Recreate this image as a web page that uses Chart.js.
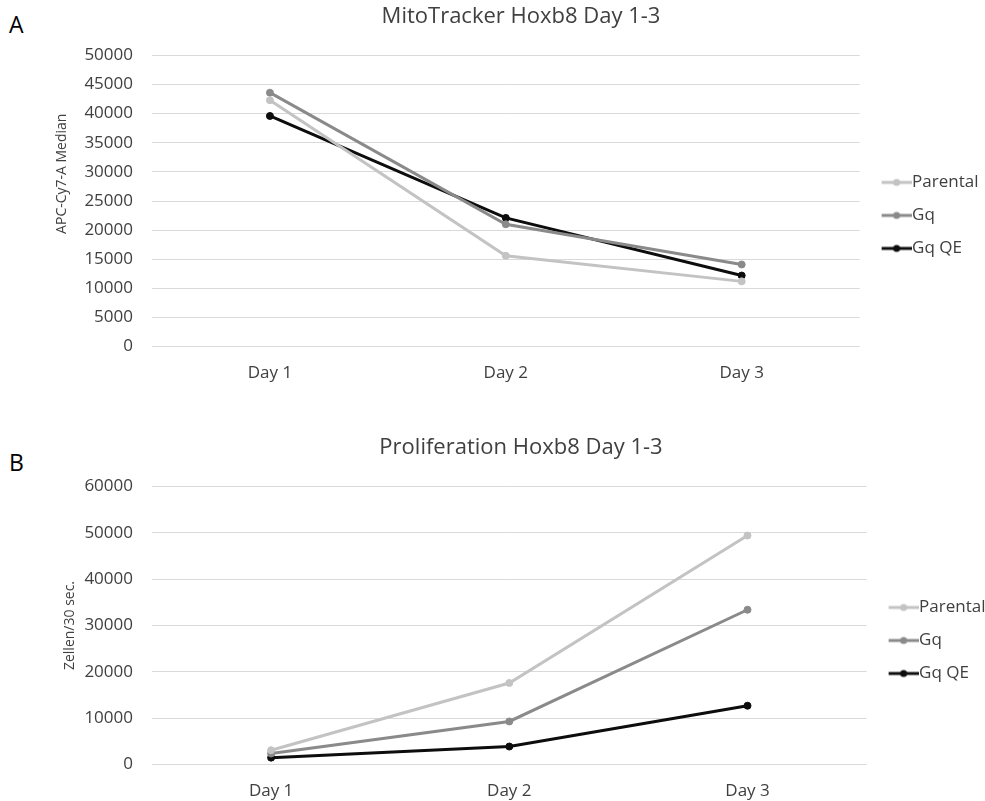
<!DOCTYPE html>
<html>
<head>
<meta charset="utf-8">
<script src="https://cdn.jsdelivr.net/npm/chart.js@4.4.1/dist/chart.umd.min.js"></script>
<style>
  html, body { margin: 0; padding: 0; background: #fff; overflow: hidden; }
  body { width: 985px; height: 801px; position: relative; font-family: 'Open Sans', sans-serif; }
  .panel { position: absolute; left: 0; }
  .letter { position: absolute; left: 9px; font-size: 23px; line-height: 1; color: #000; }
</style>
</head>
<body>
<div class="letter" style="top:13px">A</div>
<div class="letter" style="top:451px">B</div>
<div class="panel" style="top:0;width:995px;height:399px"><canvas id="graficoMito"></canvas></div>
<div class="panel" style="top:431px;width:1005px;height:386px"><canvas id="graficoProlif"></canvas></div>
<script>
// Dados
const dias = ['Day 1', 'Day 2', 'Day 3'];
const series = ['Parental', 'Gq', 'Gq QE'];
const cores = ['#c3c3c3', '#8a8a8a', '#0d0d0d'];

const mitoParental = [42300, 15600, 11200];
const mitoGq = [43600, 21000, 14100];
const mitoGqQE = [39600, 22100, 12200];

const prolifParental = [3100, 17600, 49400];
const prolifGq = [2400, 9300, 33400];
const prolifGqQE = [1500, 3900, 12700];

const corTexto = '#404040';
const fonte = "'Open Sans', sans-serif";

// Marcador da legenda: linha com ponto no meio
function marcador(cor) {
    const c = document.createElement('canvas');
    c.width = 44;
    c.height = 10;
    const ctx = c.getContext('2d');
    ctx.strokeStyle = cor;
    ctx.lineWidth = 3;
    ctx.beginPath();
    ctx.moveTo(14, 5);
    ctx.lineTo(44, 5);
    ctx.stroke();
    ctx.fillStyle = cor;
    ctx.beginPath();
    ctx.arc(29, 5, 3.5, 0, Math.PI * 2);
    ctx.fill();
    return c;
}

function dataset(label, data, cor) {
    return {
        label: label,
        data: data,
        borderColor: cor,
        backgroundColor: cor,
        borderWidth: 3,
        pointRadius: 3.5,
        pointBorderWidth: 1,
        pointBackgroundColor: cor,
        pointBorderColor: cor,
        tension: 0
    };
}

// m = margens: esquerda do layout, direita do layout, recuo do título Y, topo da legenda
function criarGrafico(id, titulo, tituloY, valores, maxY, passo, m) {
    return new Chart(document.getElementById(id), {
        type: 'line',
        data: {
            labels: dias,
            datasets: series.map((s, i) => dataset(s, valores[i], cores[i]))
        },
        options: {
            responsive: true,
            maintainAspectRatio: false,
            animation: false,
            layout: { padding: { left: m.esq, right: m.dir, top: 0, bottom: 0 } },
            plugins: {
                tooltip: { enabled: false },
                title: {
                    display: true,
                    text: titulo,
                    color: corTexto,
                    font: { family: fonte, size: 22, weight: 'normal' },
                    padding: { top: 4, bottom: 25 }
                },
                legend: {
                    position: 'right',
                    fullSize: false,
                    title: { display: true, text: '', padding: 0, font: { size: m.legenda } },
                    labels: {
                        color: corTexto,
                        font: { family: fonte, size: 17 },
                        usePointStyle: true,
                        pointStyleWidth: 28,
                        padding: 16,
                        generateLabels: (chart) => {
                            const itens = Chart.defaults.plugins.legend.labels.generateLabels(chart);
                            itens.forEach((it, i) => { it.pointStyle = marcador(cores[i]); });
                            return itens;
                        }
                    }
                }
            },
            scales: {
                x: {
                    offset: true,
                    grid: { display: false, drawTicks: false },
                    border: { display: false },
                    ticks: { color: corTexto, font: { family: fonte, size: 17 }, padding: 16 }
                },
                y: {
                    min: 0,
                    max: maxY,
                    afterFit: (scale) => { scale.width = 152 - m.esq; },
                    grid: { color: '#d9d9d9', lineWidth: 1, drawTicks: false },
                    border: { display: false },
                    ticks: {
                        stepSize: passo,
                        color: corTexto,
                        font: { family: fonte, size: 17 },
                        padding: 19,
                        callback: (v) => String(v)
                    },
                    title: {
                        display: true,
                        text: tituloY,
                        color: corTexto,
                        font: { family: fonte, size: 14 },
                        padding: { top: m.tituloY, bottom: 0 }
                    }
                }
            }
        }
    });
}

const graficoMito = criarGrafico('graficoMito', 'MitoTracker Hoxb8 Day 1-3',
    '               APC-Cy7-A Median',
    [mitoParental, mitoGq, mitoGqQE], 50000, 5000,
    { esq: 53.5, dir: 6.5, tituloY: 0.5, legenda: 24 });

const graficoProlif = criarGrafico('graficoProlif', 'Proliferation Hoxb8 Day 1-3',
    'Zellen/30 sec.',
    [prolifParental, prolifGq, prolifGqQE], 60000, 10000,
    { esq: 46.5, dir: 9.5, tituloY: 15, legenda: 25 });
</script>
</body>
</html>
